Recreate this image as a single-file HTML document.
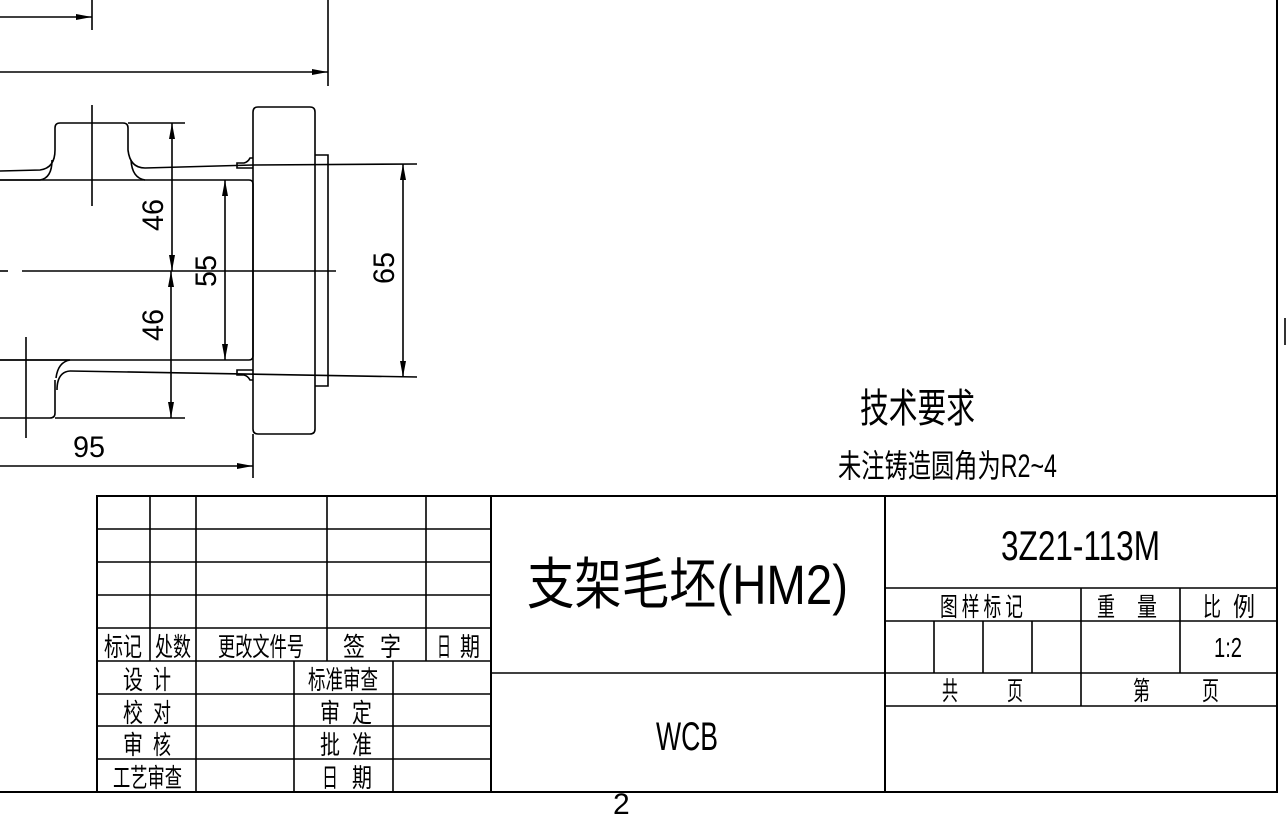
<!DOCTYPE html>
<html><head><meta charset="utf-8"><style>
html,body{margin:0;padding:0;background:#fff;}
svg{display:block;}
text{font-family:"Liberation Sans","Noto Sans CJK SC",sans-serif;fill:#000;}
</style></head><body>
<svg width="1286" height="814" viewBox="0 0 1286 814" xmlns="http://www.w3.org/2000/svg">
<defs>
<marker id="a" viewBox="0 0 16 6" refX="16" refY="3" markerWidth="16" markerHeight="6" markerUnits="userSpaceOnUse" orient="auto-start-reverse"><path d="M0,0 L16,3 L0,6 z" fill="#000"/></marker>
</defs>
<g stroke="#000" stroke-width="1.6" fill="none">
<line x1="1277" y1="0" x2="1277" y2="792" stroke-width="2"/>
<line x1="0" y1="792" x2="1277" y2="792" stroke-width="2"/>
<line x1="1285" y1="318" x2="1285" y2="345"/>
<line x1="92" y1="0" x2="92" y2="30"/>
<line x1="0" y1="17" x2="92" y2="17" marker-end="url(#a)"/>
<line x1="328" y1="0" x2="328" y2="86"/>
<line x1="0" y1="72" x2="328" y2="72" marker-end="url(#a)"/>
<path d="M0,171 L40,170 Q55,168 55,150 L55,128 Q55,123 60,123 L123,123 Q128,123 128,128 L128,150 Q130,168 145,168 L253,165"/>
<path d="M0,180 L40,180 Q52,178 52,160"/>
<path d="M145,180 Q132,178 131,160"/>
<path d="M0,180 L249,180 Q253,180 253,184 L253,356 Q253,360 249,360 L0,360"/>
<line x1="253" y1="165" x2="417" y2="164"/>
<path d="M70,371 Q57,372 57,390"/>
<path d="M0,360 L70,360 Q58,362 56,378"/>
<path d="M70,371 L417,377"/>
<path d="M55,380 L55,413 Q55,418 50,418 L0,418"/>
<path d="M253,112 Q253,107 258,107 L310,107 Q315,107 315,112 L315,429 Q315,434 310,434 L258,434 Q253,434 253,429 Z"/>
<path d="M253,158 L250,158 Q248,162 244,163 L237,163 L237,168 L253,168"/>
<path d="M253,370 L237,370 L237,375 L244,375 Q248,376 250,380 L253,380"/>
<path d="M315,155 L328,155 L328,386 L315,386"/>
<line x1="253" y1="434" x2="253" y2="478"/>
<line x1="0" y1="271" x2="8" y2="271"/>
<line x1="22" y1="271" x2="336" y2="271"/>
<line x1="92" y1="105" x2="92" y2="206"/>
<line x1="26" y1="337" x2="26" y2="438"/>
<line x1="128" y1="123" x2="185" y2="123"/>
<line x1="172" y1="123" x2="172" y2="271" marker-start="url(#a)" marker-end="url(#a)"/>
<line x1="55" y1="418" x2="185" y2="418"/>
<line x1="171" y1="271" x2="171" y2="418" marker-start="url(#a)" marker-end="url(#a)"/>
<line x1="225" y1="180" x2="225" y2="360" marker-start="url(#a)" marker-end="url(#a)"/>
<line x1="403" y1="164" x2="403" y2="377" marker-start="url(#a)" marker-end="url(#a)"/>
<line x1="0" y1="466" x2="253" y2="466" marker-end="url(#a)"/>
<rect x="97" y="496" width="1180" height="296" stroke-width="2"/>
<line x1="491" y1="496" x2="491" y2="792" stroke-width="2"/>
<line x1="885" y1="496" x2="885" y2="792" stroke-width="2"/>
<line x1="97" y1="529" x2="491" y2="529"/><line x1="97" y1="562" x2="491" y2="562"/>
<line x1="97" y1="595" x2="491" y2="595"/><line x1="97" y1="628" x2="491" y2="628"/>
<line x1="97" y1="661" x2="491" y2="661"/><line x1="97" y1="694" x2="491" y2="694"/>
<line x1="97" y1="726" x2="491" y2="726"/><line x1="97" y1="759" x2="491" y2="759"/>
<line x1="150" y1="496" x2="150" y2="661"/><line x1="196" y1="496" x2="196" y2="792"/>
<line x1="327" y1="496" x2="327" y2="661"/><line x1="426" y1="496" x2="426" y2="661"/>
<line x1="294" y1="661" x2="294" y2="792"/><line x1="393" y1="661" x2="393" y2="792"/>
<line x1="491" y1="673" x2="885" y2="673"/>
<line x1="885" y1="588" x2="1277" y2="588"/><line x1="885" y1="621" x2="1277" y2="621"/>
<line x1="885" y1="673" x2="1277" y2="673"/><line x1="885" y1="706" x2="1277" y2="706"/>
<line x1="1081" y1="588" x2="1081" y2="706"/><line x1="1180" y1="588" x2="1180" y2="673"/>
<line x1="934" y1="621" x2="934" y2="673"/><line x1="983" y1="621" x2="983" y2="673"/><line x1="1032" y1="621" x2="1032" y2="673"/>
</g>
<g font-size="30">
<text transform="translate(163,215) rotate(-90)" text-anchor="middle" textLength="32" lengthAdjust="spacingAndGlyphs">46</text>
<text transform="translate(163,325) rotate(-90)" text-anchor="middle" textLength="32" lengthAdjust="spacingAndGlyphs">46</text>
<text transform="translate(216,271) rotate(-90)" text-anchor="middle" textLength="32" lengthAdjust="spacingAndGlyphs">55</text>
<text transform="translate(394,268) rotate(-90)" text-anchor="middle" textLength="32" lengthAdjust="spacingAndGlyphs">65</text>
<text x="73" y="457" textLength="32" lengthAdjust="spacingAndGlyphs">95</text>
</g>
<text x="860" y="422" font-size="40" textLength="115" lengthAdjust="spacingAndGlyphs">技术要求</text>
<text x="838" y="477" font-size="32" textLength="219" lengthAdjust="spacingAndGlyphs">未注铸造圆角为R2~4</text>
<text x="527" y="604" font-size="56" textLength="321" lengthAdjust="spacingAndGlyphs">支架毛坯(HM2)</text>
<text x="656" y="750" font-size="40" textLength="62" lengthAdjust="spacingAndGlyphs">WCB</text>
<text x="1001" y="560" font-size="42" textLength="159" lengthAdjust="spacingAndGlyphs">3Z21-113M</text>
<text x="613" y="814" font-size="30">2</text>
<g font-size="26">
<text x="104" y="656" textLength="38" lengthAdjust="spacingAndGlyphs">标记</text>
<text x="155" y="656" textLength="36" lengthAdjust="spacingAndGlyphs">处数</text>
<text x="218" y="656" textLength="86" lengthAdjust="spacingAndGlyphs">更改文件号</text>
<text x="343" y="656" textLength="22" lengthAdjust="spacingAndGlyphs">签</text>
<text x="380" y="656" textLength="21" lengthAdjust="spacingAndGlyphs">字</text>
<text x="437" y="656" textLength="14" lengthAdjust="spacingAndGlyphs">日</text>
<text x="460" y="656" textLength="20" lengthAdjust="spacingAndGlyphs">期</text>
<text x="123" y="689" textLength="20" lengthAdjust="spacingAndGlyphs">设</text>
<text x="153" y="689" textLength="18" lengthAdjust="spacingAndGlyphs">计</text>
<text x="123" y="722" textLength="20" lengthAdjust="spacingAndGlyphs">校</text>
<text x="153" y="722" textLength="18" lengthAdjust="spacingAndGlyphs">对</text>
<text x="123" y="754" textLength="20" lengthAdjust="spacingAndGlyphs">审</text>
<text x="153" y="754" textLength="18" lengthAdjust="spacingAndGlyphs">核</text>
<text x="113" y="787" textLength="69" lengthAdjust="spacingAndGlyphs">工艺审查</text>
<text x="308" y="689" textLength="70" lengthAdjust="spacingAndGlyphs">标准审查</text>
<text x="320" y="722" textLength="20" lengthAdjust="spacingAndGlyphs">审</text>
<text x="352" y="722" textLength="20" lengthAdjust="spacingAndGlyphs">定</text>
<text x="320" y="754" textLength="20" lengthAdjust="spacingAndGlyphs">批</text>
<text x="352" y="754" textLength="20" lengthAdjust="spacingAndGlyphs">准</text>
<text x="322" y="787" textLength="16" lengthAdjust="spacingAndGlyphs">日</text>
<text x="352" y="787" textLength="20" lengthAdjust="spacingAndGlyphs">期</text>
<text x="940" y="616" textLength="87" lengthAdjust="spacingAndGlyphs" letter-spacing="6">图样标记</text>
<text x="1097" y="616" textLength="18" lengthAdjust="spacingAndGlyphs">重</text>
<text x="1137" y="616" textLength="20" lengthAdjust="spacingAndGlyphs">量</text>
<text x="1203" y="616" textLength="18" lengthAdjust="spacingAndGlyphs">比</text>
<text x="1233" y="616" textLength="22" lengthAdjust="spacingAndGlyphs">例</text>
<text x="1214" y="657" font-size="28" textLength="28" lengthAdjust="spacingAndGlyphs">1:2</text>
<text x="942" y="700" textLength="16" lengthAdjust="spacingAndGlyphs">共</text>
<text x="1007" y="700" textLength="16" lengthAdjust="spacingAndGlyphs">页</text>
<text x="1133" y="700" textLength="17" lengthAdjust="spacingAndGlyphs">第</text>
<text x="1202" y="700" textLength="17" lengthAdjust="spacingAndGlyphs">页</text>
</g>
</svg>
</body></html>
